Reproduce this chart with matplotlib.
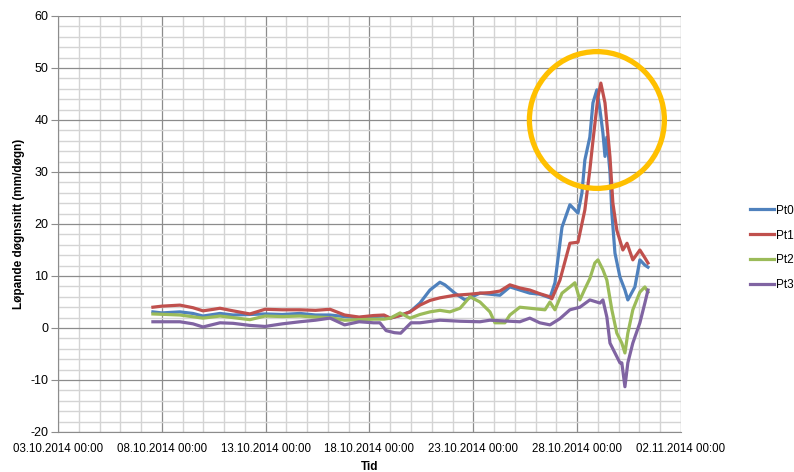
import numpy as np
import pandas as pd
import matplotlib
matplotlib.use('Agg')
import matplotlib.pyplot as plt
import matplotlib.dates as mdates
from matplotlib.patches import Ellipse

plt.rcParams['font.family'] = ['Liberation Sans', 'DejaVu Sans']
plt.rcParams['axes.unicode_minus'] = False

# time in days after 03.10.2014 00:00, values in mm/døgn
t_pt0 = [4.57, 5.0, 5.87, 6.5, 6.98, 7.8, 8.43, 9.24, 9.97, 10.8, 11.65, 12.4, 13.1, 13.8,
         14.5, 15.2, 15.7, 16.0, 16.47, 16.95, 17.43, 17.91, 18.39, 18.63, 19.11, 19.6, 20.32,
         20.8, 21.28, 21.76, 22.24, 22.72, 23.2, 23.69, 23.93, 24.27, 24.65, 25.04, 25.23,
         25.37, 25.61, 25.76, 25.95, 26.1, 26.24, 26.34, 26.43, 26.58, 26.67, 26.82, 27.06,
         27.3, 27.44, 27.78, 28.02, 28.26, 28.41]
v_pt0 = [3.1, 2.9, 3.1, 2.8, 2.3, 2.8, 2.5, 2.6, 2.7, 2.6, 2.8, 2.5, 2.5, 2.2,
         2.0, 2.2, 2.3, 1.9, 2.4, 3.1, 4.8, 7.3, 8.8, 8.3, 6.7, 5.4, 6.7,
         6.5, 6.3, 7.9, 7.3, 6.7, 6.5, 5.8, 8.7, 19.4, 23.7, 22.1, 26.0,
         32.3, 36.7, 43.3, 45.8, 41.9, 37.5, 33.0, 36.7, 30.0, 22.1, 14.4, 9.8,
         7.3, 5.4, 7.9, 13.1, 12.1, 11.7]

t_pt1 = [4.57, 5.0, 5.87, 6.5, 6.98, 7.5, 7.8, 8.43, 9.24, 9.97, 10.8, 11.65, 12.4, 13.1,
         13.8, 14.5, 15.2, 15.7, 16.0, 16.47, 16.95, 17.43, 17.91, 18.39, 19.11, 19.84,
         20.32, 20.8, 21.28, 21.76, 22.24, 22.72, 23.2, 23.69, 23.78, 24.17, 24.65, 25.04,
         25.37, 25.61, 25.76, 26.0, 26.14, 26.34, 26.58, 26.72, 26.91, 27.2, 27.4, 27.68,
         28.02, 28.26, 28.41]
v_pt1 = [4.0, 4.2, 4.4, 3.9, 3.3, 3.6, 3.8, 3.3, 2.7, 3.6, 3.5, 3.5, 3.4, 3.6,
         2.5, 2.1, 2.4, 2.5, 1.9, 2.4, 3.1, 4.4, 5.3, 5.8, 6.3, 6.5,
         6.7, 6.8, 7.1, 8.3, 7.7, 7.3, 6.6, 6.0, 5.6, 9.2, 16.3, 16.5,
         22.7, 30.4, 36.0, 44.4, 47.1, 43.3, 32.9, 24.0, 18.8, 15.0, 16.3, 13.1,
         15.0, 13.5, 12.5]

t_pt2 = [4.57, 5.87, 6.98, 7.8, 8.43, 9.24, 9.97, 10.8, 11.65, 12.4, 13.1, 13.8, 14.5,
         15.2, 15.7, 16.0, 16.47, 16.95, 17.43, 17.91, 18.39, 18.87, 19.36, 19.84, 20.32,
         20.8, 21.04, 21.52, 21.76, 22.24, 22.72, 23.45, 23.69, 23.93, 24.27, 24.65, 24.89,
         25.13, 25.37, 25.61, 25.85, 26.0, 26.24, 26.43, 26.67, 26.91, 27.15, 27.3, 27.44,
         27.68, 28.02, 28.26, 28.41]
v_pt2 = [2.7, 2.5, 1.9, 2.3, 2.0, 1.6, 2.3, 2.2, 2.3, 2.1, 2.0, 1.5, 1.6,
         1.7, 1.7, 1.9, 2.9, 1.9, 2.6, 3.1, 3.4, 3.1, 3.8, 6.0, 5.0,
         3.1, 1.0, 1.0, 2.5, 4.0, 3.8, 3.5, 5.0, 3.5, 6.7, 7.9, 8.7,
         5.4, 7.5, 9.5, 12.5, 13.1, 11.2, 9.2, 3.5, -1.0, -2.9, -4.8, -1.0,
         3.5, 6.9, 7.9, 6.9]

t_pt3 = [4.57, 5.87, 6.5, 6.98, 7.8, 8.43, 9.24, 9.97, 10.8, 11.65, 12.4, 13.1, 13.8,
         14.5, 15.2, 15.5, 15.8, 16.2, 16.5, 16.8, 17.0, 17.43, 18.39, 19.36, 20.32, 20.8,
         21.28, 22.24, 22.72, 23.2, 23.69, 24.17, 24.65, 25.13, 25.61, 26.1, 26.24, 26.43,
         26.58, 26.82, 27.06, 27.15, 27.3, 27.44, 27.68, 28.02, 28.26, 28.41]
v_pt3 = [1.2, 1.2, 0.8, 0.2, 1.0, 0.9, 0.5, 0.3, 0.8, 1.2, 1.5, 1.9, 0.6,
         1.2, 1.0, 1.0, -0.5, -0.9, -1.0, 0.2, 1.0, 1.0, 1.5, 1.3, 1.2, 1.5,
         1.4, 1.2, 1.9, 1.0, 0.6, 1.8, 3.5, 4.0, 5.4, 4.8, 5.4, 2.1,
         -2.9, -4.8, -6.7, -6.7, -11.3, -6.7, -2.9, 1.0, 4.8, 7.3]

labels = ['Pt0', 'Pt1', 'Pt2', 'Pt3']
colors = ['#4F81BD', '#C0504D', '#9BBB59', '#8064A2']
xtick_labels = ['03.10.2014 00:00', '08.10.2014 00:00', '13.10.2014 00:00', '18.10.2014 00:00',
                '23.10.2014 00:00', '28.10.2014 00:00', '02.11.2014 00:00']

base = pd.Timestamp('2014-10-03')
def to_time(t):
    return base + pd.to_timedelta(np.array(t), unit='D')

fig = plt.figure(figsize=(7.94, 4.72), dpi=100)
ax = fig.add_axes([58/794, 1 - 432/472, (681 - 58)/794, (432 - 16)/472])

series = [(t_pt0, v_pt0), (t_pt1, v_pt1), (t_pt2, v_pt2), (t_pt3, v_pt3)]
for (t, v), lab, c in zip(series, labels, colors):
    ax.plot(to_time(t), v, color=c, lw=2.3, label=lab, zorder=3)

xticks = pd.to_datetime(xtick_labels, format='%d.%m.%Y %H:%M')
ax.set_xlim(xticks[0], xticks[-1])
ax.set_xticks(xticks)
ax.set_xticklabels(xtick_labels)
ax.set_xticks(pd.date_range(xticks[0], xticks[-1], freq='D'), minor=True)
ax.set_ylim(-20, 60)
ax.set_yticks(np.arange(-20, 61, 10))
ax.set_yticks(np.arange(-20, 61, 2), minor=True)

ax.grid(which='minor', color='#d4d4d4', lw=1.0, zorder=0)
ax.grid(which='major', color='#8c8c8c', lw=0.9, zorder=1)
ax.set_axisbelow(True)
for s in ['top', 'right']:
    ax.spines[s].set_visible(False)
for s in ['left', 'bottom']:
    ax.spines[s].set_color('#8c8c8c')
ax.tick_params(axis='y', which='major', length=5, color='#8c8c8c', labelsize=9, pad=2)
ax.tick_params(axis='x', which='major', length=0, labelsize=8.3, pad=8)
ax.tick_params(which='minor', length=0)

ax.set_xlabel('Tid', fontweight='bold', fontsize=8.5, labelpad=4)
ax.set_ylabel('Løpande døgnsnitt (mm/døgn)', fontweight='bold', fontsize=8.5, labelpad=3.5)

# highlight circle round the peak
ell = Ellipse((mdates.date2num(base + pd.Timedelta(days=25.95)), 40), width=6.5, height=26.3,
              fill=False, ec='#FFC000', lw=3.8, zorder=4)
ax.add_patch(ell)

fig.legend(loc='center left', bbox_to_anchor=(744/794, 1 - 248/472), frameon=False,
           fontsize=8.5, handlelength=2.0, handletextpad=0.25, labelspacing=1.1, borderpad=0)

fig.savefig('out.png', dpi=100)
